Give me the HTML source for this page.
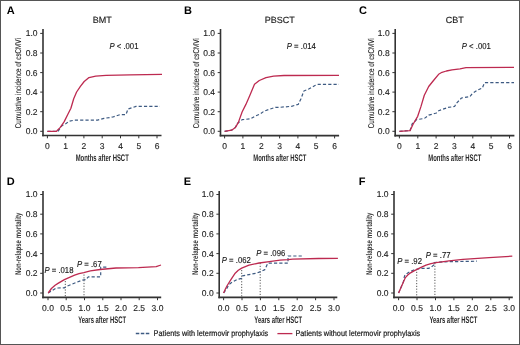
<!DOCTYPE html>
<html><head><meta charset="utf-8"><style>
html,body{margin:0;padding:0;background:#fff;}
body{width:520px;height:345px;overflow:hidden;}
svg{display:block;font-family:"Liberation Sans",sans-serif;will-change:transform;text-rendering:geometricPrecision;}
</style></head><body>
<svg width="520" height="345" viewBox="0 0 520 345">
<rect x="0" y="0" width="520" height="345" fill="#fff"/>
<line x1="0" y1="0" x2="0" y2="0"/>
<text x="6.7" y="14.3" font-weight="bold" font-size="11" fill="#000">A</text>
<line x1="43.0" y1="29" x2="43.0" y2="136.3" stroke="#333" stroke-width="1.6"/>
<line x1="40.2" y1="131.3" x2="43.0" y2="131.3" stroke="#333" stroke-width="1"/>
<text x="37.5" y="134.2" font-size="8.5" text-anchor="end" fill="#222" stroke="#222" stroke-width="0.12">0.0</text>
<line x1="40.2" y1="111.7" x2="43.0" y2="111.7" stroke="#333" stroke-width="1"/>
<text x="37.5" y="114.6" font-size="8.5" text-anchor="end" fill="#222" stroke="#222" stroke-width="0.12">0.2</text>
<line x1="40.2" y1="92.1" x2="43.0" y2="92.1" stroke="#333" stroke-width="1"/>
<text x="37.5" y="95.0" font-size="8.5" text-anchor="end" fill="#222" stroke="#222" stroke-width="0.12">0.4</text>
<line x1="40.2" y1="72.6" x2="43.0" y2="72.6" stroke="#333" stroke-width="1"/>
<text x="37.5" y="75.5" font-size="8.5" text-anchor="end" fill="#222" stroke="#222" stroke-width="0.12">0.6</text>
<line x1="40.2" y1="53.0" x2="43.0" y2="53.0" stroke="#333" stroke-width="1"/>
<text x="37.5" y="55.9" font-size="8.5" text-anchor="end" fill="#222" stroke="#222" stroke-width="0.12">0.8</text>
<line x1="40.2" y1="33.4" x2="43.0" y2="33.4" stroke="#333" stroke-width="1"/>
<text x="37.5" y="36.3" font-size="8.5" text-anchor="end" fill="#222" stroke="#222" stroke-width="0.12">1.0</text>
<line x1="42.2" y1="135.5" x2="161.5" y2="135.5" stroke="#333" stroke-width="1.6"/>
<line x1="47.4" y1="135.5" x2="47.4" y2="138.3" stroke="#333" stroke-width="1"/>
<text x="47.4" y="148.9" font-size="8.5" text-anchor="middle" fill="#222" stroke="#222" stroke-width="0.12">0</text>
<line x1="65.7" y1="135.5" x2="65.7" y2="138.3" stroke="#333" stroke-width="1"/>
<text x="65.7" y="148.9" font-size="8.5" text-anchor="middle" fill="#222" stroke="#222" stroke-width="0.12">1</text>
<line x1="83.9" y1="135.5" x2="83.9" y2="138.3" stroke="#333" stroke-width="1"/>
<text x="83.9" y="148.9" font-size="8.5" text-anchor="middle" fill="#222" stroke="#222" stroke-width="0.12">2</text>
<line x1="102.2" y1="135.5" x2="102.2" y2="138.3" stroke="#333" stroke-width="1"/>
<text x="102.2" y="148.9" font-size="8.5" text-anchor="middle" fill="#222" stroke="#222" stroke-width="0.12">3</text>
<line x1="120.5" y1="135.5" x2="120.5" y2="138.3" stroke="#333" stroke-width="1"/>
<text x="120.5" y="148.9" font-size="8.5" text-anchor="middle" fill="#222" stroke="#222" stroke-width="0.12">4</text>
<line x1="138.8" y1="135.5" x2="138.8" y2="138.3" stroke="#333" stroke-width="1"/>
<text x="138.8" y="148.9" font-size="8.5" text-anchor="middle" fill="#222" stroke="#222" stroke-width="0.12">5</text>
<line x1="157.0" y1="135.5" x2="157.0" y2="138.3" stroke="#333" stroke-width="1"/>
<text x="157.0" y="148.9" font-size="8.5" text-anchor="middle" fill="#222" stroke="#222" stroke-width="0.12">6</text>
<text transform="translate(102.2,161.1) scale(0.655,1.06)" font-size="9" font-weight="bold" text-anchor="middle" fill="#2a2a2a">Months after HSCT</text>
<text transform="translate(21.3,83.2) rotate(-90) scale(0.75,1)" font-size="8.4" text-anchor="middle" fill="#1a1a1a" stroke="#1a1a1a" stroke-width="0.1">Cumulative incidence of csCMVi</text>
<text x="102.2" y="23.1" font-size="9" text-anchor="middle" fill="#1a1a1a" stroke="#1a1a1a" stroke-width="0.15">BMT</text>
<text x="184.1" y="14.3" font-weight="bold" font-size="11" fill="#000">B</text>
<line x1="220.5" y1="29" x2="220.5" y2="136.4" stroke="#333" stroke-width="1.6"/>
<line x1="217.7" y1="131.3" x2="220.5" y2="131.3" stroke="#333" stroke-width="1"/>
<text x="215.0" y="134.2" font-size="8.5" text-anchor="end" fill="#222" stroke="#222" stroke-width="0.12">0.0</text>
<line x1="217.7" y1="111.7" x2="220.5" y2="111.7" stroke="#333" stroke-width="1"/>
<text x="215.0" y="114.6" font-size="8.5" text-anchor="end" fill="#222" stroke="#222" stroke-width="0.12">0.2</text>
<line x1="217.7" y1="92.1" x2="220.5" y2="92.1" stroke="#333" stroke-width="1"/>
<text x="215.0" y="95.0" font-size="8.5" text-anchor="end" fill="#222" stroke="#222" stroke-width="0.12">0.4</text>
<line x1="217.7" y1="72.6" x2="220.5" y2="72.6" stroke="#333" stroke-width="1"/>
<text x="215.0" y="75.5" font-size="8.5" text-anchor="end" fill="#222" stroke="#222" stroke-width="0.12">0.6</text>
<line x1="217.7" y1="53.0" x2="220.5" y2="53.0" stroke="#333" stroke-width="1"/>
<text x="215.0" y="55.9" font-size="8.5" text-anchor="end" fill="#222" stroke="#222" stroke-width="0.12">0.8</text>
<line x1="217.7" y1="33.4" x2="220.5" y2="33.4" stroke="#333" stroke-width="1"/>
<text x="215.0" y="36.3" font-size="8.5" text-anchor="end" fill="#222" stroke="#222" stroke-width="0.12">1.0</text>
<line x1="219.7" y1="135.6" x2="339.1" y2="135.6" stroke="#333" stroke-width="1.6"/>
<line x1="224.6" y1="135.6" x2="224.6" y2="138.4" stroke="#333" stroke-width="1"/>
<text x="224.6" y="149.0" font-size="8.5" text-anchor="middle" fill="#222" stroke="#222" stroke-width="0.12">0</text>
<line x1="242.9" y1="135.6" x2="242.9" y2="138.4" stroke="#333" stroke-width="1"/>
<text x="242.9" y="149.0" font-size="8.5" text-anchor="middle" fill="#222" stroke="#222" stroke-width="0.12">1</text>
<line x1="261.3" y1="135.6" x2="261.3" y2="138.4" stroke="#333" stroke-width="1"/>
<text x="261.3" y="149.0" font-size="8.5" text-anchor="middle" fill="#222" stroke="#222" stroke-width="0.12">2</text>
<line x1="279.6" y1="135.6" x2="279.6" y2="138.4" stroke="#333" stroke-width="1"/>
<text x="279.6" y="149.0" font-size="8.5" text-anchor="middle" fill="#222" stroke="#222" stroke-width="0.12">3</text>
<line x1="297.9" y1="135.6" x2="297.9" y2="138.4" stroke="#333" stroke-width="1"/>
<text x="297.9" y="149.0" font-size="8.5" text-anchor="middle" fill="#222" stroke="#222" stroke-width="0.12">4</text>
<line x1="316.2" y1="135.6" x2="316.2" y2="138.4" stroke="#333" stroke-width="1"/>
<text x="316.2" y="149.0" font-size="8.5" text-anchor="middle" fill="#222" stroke="#222" stroke-width="0.12">5</text>
<line x1="334.6" y1="135.6" x2="334.6" y2="138.4" stroke="#333" stroke-width="1"/>
<text x="334.6" y="149.0" font-size="8.5" text-anchor="middle" fill="#222" stroke="#222" stroke-width="0.12">6</text>
<text transform="translate(279.8,161.2) scale(0.655,1.06)" font-size="9" font-weight="bold" text-anchor="middle" fill="#2a2a2a">Months after HSCT</text>
<text transform="translate(198.8,83.3) rotate(-90) scale(0.75,1)" font-size="8.4" text-anchor="middle" fill="#1a1a1a" stroke="#1a1a1a" stroke-width="0.1">Cumulative incidence of csCMVi</text>
<text x="279.8" y="23.1" font-size="9" text-anchor="middle" fill="#1a1a1a" stroke="#1a1a1a" stroke-width="0.15">PBSCT</text>
<text x="359.09999999999997" y="14.3" font-weight="bold" font-size="11" fill="#000">C</text>
<line x1="395.2" y1="29" x2="395.2" y2="136.4" stroke="#333" stroke-width="1.6"/>
<line x1="392.4" y1="131.3" x2="395.2" y2="131.3" stroke="#333" stroke-width="1"/>
<text x="389.7" y="134.2" font-size="8.5" text-anchor="end" fill="#222" stroke="#222" stroke-width="0.12">0.0</text>
<line x1="392.4" y1="111.7" x2="395.2" y2="111.7" stroke="#333" stroke-width="1"/>
<text x="389.7" y="114.6" font-size="8.5" text-anchor="end" fill="#222" stroke="#222" stroke-width="0.12">0.2</text>
<line x1="392.4" y1="92.1" x2="395.2" y2="92.1" stroke="#333" stroke-width="1"/>
<text x="389.7" y="95.0" font-size="8.5" text-anchor="end" fill="#222" stroke="#222" stroke-width="0.12">0.4</text>
<line x1="392.4" y1="72.6" x2="395.2" y2="72.6" stroke="#333" stroke-width="1"/>
<text x="389.7" y="75.5" font-size="8.5" text-anchor="end" fill="#222" stroke="#222" stroke-width="0.12">0.6</text>
<line x1="392.4" y1="53.0" x2="395.2" y2="53.0" stroke="#333" stroke-width="1"/>
<text x="389.7" y="55.9" font-size="8.5" text-anchor="end" fill="#222" stroke="#222" stroke-width="0.12">0.8</text>
<line x1="392.4" y1="33.4" x2="395.2" y2="33.4" stroke="#333" stroke-width="1"/>
<text x="389.7" y="36.3" font-size="8.5" text-anchor="end" fill="#222" stroke="#222" stroke-width="0.12">1.0</text>
<line x1="394.4" y1="135.6" x2="514.4" y2="135.6" stroke="#333" stroke-width="1.6"/>
<line x1="399.4" y1="135.6" x2="399.4" y2="138.4" stroke="#333" stroke-width="1"/>
<text x="399.4" y="149.0" font-size="8.5" text-anchor="middle" fill="#222" stroke="#222" stroke-width="0.12">0</text>
<line x1="417.8" y1="135.6" x2="417.8" y2="138.4" stroke="#333" stroke-width="1"/>
<text x="417.8" y="149.0" font-size="8.5" text-anchor="middle" fill="#222" stroke="#222" stroke-width="0.12">1</text>
<line x1="436.1" y1="135.6" x2="436.1" y2="138.4" stroke="#333" stroke-width="1"/>
<text x="436.1" y="149.0" font-size="8.5" text-anchor="middle" fill="#222" stroke="#222" stroke-width="0.12">2</text>
<line x1="454.4" y1="135.6" x2="454.4" y2="138.4" stroke="#333" stroke-width="1"/>
<text x="454.4" y="149.0" font-size="8.5" text-anchor="middle" fill="#222" stroke="#222" stroke-width="0.12">3</text>
<line x1="472.8" y1="135.6" x2="472.8" y2="138.4" stroke="#333" stroke-width="1"/>
<text x="472.8" y="149.0" font-size="8.5" text-anchor="middle" fill="#222" stroke="#222" stroke-width="0.12">4</text>
<line x1="491.1" y1="135.6" x2="491.1" y2="138.4" stroke="#333" stroke-width="1"/>
<text x="491.1" y="149.0" font-size="8.5" text-anchor="middle" fill="#222" stroke="#222" stroke-width="0.12">5</text>
<line x1="509.5" y1="135.6" x2="509.5" y2="138.4" stroke="#333" stroke-width="1"/>
<text x="509.5" y="149.0" font-size="8.5" text-anchor="middle" fill="#222" stroke="#222" stroke-width="0.12">6</text>
<text transform="translate(454.8,161.2) scale(0.655,1.06)" font-size="9" font-weight="bold" text-anchor="middle" fill="#2a2a2a">Months after HSCT</text>
<text transform="translate(373.5,83.3) rotate(-90) scale(0.75,1)" font-size="8.4" text-anchor="middle" fill="#1a1a1a" stroke="#1a1a1a" stroke-width="0.1">Cumulative incidence of csCMVi</text>
<text x="454.8" y="23.1" font-size="9" text-anchor="middle" fill="#1a1a1a" stroke="#1a1a1a" stroke-width="0.15">CBT</text>
<text x="6.7" y="184.5" font-weight="bold" font-size="11" fill="#000">D</text>
<line x1="43.0" y1="191" x2="43.0" y2="298.2" stroke="#333" stroke-width="1.6"/>
<line x1="40.2" y1="293.0" x2="43.0" y2="293.0" stroke="#333" stroke-width="1"/>
<text x="37.5" y="295.9" font-size="8.5" text-anchor="end" fill="#222" stroke="#222" stroke-width="0.12">0.0</text>
<line x1="40.2" y1="273.3" x2="43.0" y2="273.3" stroke="#333" stroke-width="1"/>
<text x="37.5" y="276.2" font-size="8.5" text-anchor="end" fill="#222" stroke="#222" stroke-width="0.12">0.2</text>
<line x1="40.2" y1="253.6" x2="43.0" y2="253.6" stroke="#333" stroke-width="1"/>
<text x="37.5" y="256.5" font-size="8.5" text-anchor="end" fill="#222" stroke="#222" stroke-width="0.12">0.4</text>
<line x1="40.2" y1="233.9" x2="43.0" y2="233.9" stroke="#333" stroke-width="1"/>
<text x="37.5" y="236.8" font-size="8.5" text-anchor="end" fill="#222" stroke="#222" stroke-width="0.12">0.6</text>
<line x1="40.2" y1="214.2" x2="43.0" y2="214.2" stroke="#333" stroke-width="1"/>
<text x="37.5" y="217.1" font-size="8.5" text-anchor="end" fill="#222" stroke="#222" stroke-width="0.12">0.8</text>
<line x1="40.2" y1="194.5" x2="43.0" y2="194.5" stroke="#333" stroke-width="1"/>
<text x="37.5" y="197.4" font-size="8.5" text-anchor="end" fill="#222" stroke="#222" stroke-width="0.12">1.0</text>
<line x1="42.2" y1="297.4" x2="161.2" y2="297.4" stroke="#333" stroke-width="1.6"/>
<line x1="48.0" y1="297.4" x2="48.0" y2="300.2" stroke="#333" stroke-width="1"/>
<text x="48.0" y="310.8" font-size="8.5" text-anchor="middle" fill="#222" stroke="#222" stroke-width="0.12">0.0</text>
<line x1="66.2" y1="297.4" x2="66.2" y2="300.2" stroke="#333" stroke-width="1"/>
<text x="66.2" y="310.8" font-size="8.5" text-anchor="middle" fill="#222" stroke="#222" stroke-width="0.12">0.5</text>
<line x1="84.5" y1="297.4" x2="84.5" y2="300.2" stroke="#333" stroke-width="1"/>
<text x="84.5" y="310.8" font-size="8.5" text-anchor="middle" fill="#222" stroke="#222" stroke-width="0.12">1.0</text>
<line x1="102.8" y1="297.4" x2="102.8" y2="300.2" stroke="#333" stroke-width="1"/>
<text x="102.8" y="310.8" font-size="8.5" text-anchor="middle" fill="#222" stroke="#222" stroke-width="0.12">1.5</text>
<line x1="121.0" y1="297.4" x2="121.0" y2="300.2" stroke="#333" stroke-width="1"/>
<text x="121.0" y="310.8" font-size="8.5" text-anchor="middle" fill="#222" stroke="#222" stroke-width="0.12">2.0</text>
<line x1="139.2" y1="297.4" x2="139.2" y2="300.2" stroke="#333" stroke-width="1"/>
<text x="139.2" y="310.8" font-size="8.5" text-anchor="middle" fill="#222" stroke="#222" stroke-width="0.12">2.5</text>
<line x1="157.5" y1="297.4" x2="157.5" y2="300.2" stroke="#333" stroke-width="1"/>
<text x="157.5" y="310.8" font-size="8.5" text-anchor="middle" fill="#222" stroke="#222" stroke-width="0.12">3.0</text>
<text transform="translate(102.1,323.0) scale(0.655,1.06)" font-size="9" font-weight="bold" text-anchor="middle" fill="#2a2a2a">Years after HSCT</text>
<text transform="translate(21.3,243.9) rotate(-90) scale(0.725,1)" font-size="8.4" font-weight="bold" text-anchor="middle" fill="#383838">Non-relapse mortality</text>
<text x="183.7" y="184.5" font-weight="bold" font-size="11" fill="#000">E</text>
<line x1="219.2" y1="191" x2="219.2" y2="298.2" stroke="#333" stroke-width="1.6"/>
<line x1="216.39999999999998" y1="293.0" x2="219.2" y2="293.0" stroke="#333" stroke-width="1"/>
<text x="213.7" y="295.9" font-size="8.5" text-anchor="end" fill="#222" stroke="#222" stroke-width="0.12">0.0</text>
<line x1="216.39999999999998" y1="273.3" x2="219.2" y2="273.3" stroke="#333" stroke-width="1"/>
<text x="213.7" y="276.2" font-size="8.5" text-anchor="end" fill="#222" stroke="#222" stroke-width="0.12">0.2</text>
<line x1="216.39999999999998" y1="253.6" x2="219.2" y2="253.6" stroke="#333" stroke-width="1"/>
<text x="213.7" y="256.5" font-size="8.5" text-anchor="end" fill="#222" stroke="#222" stroke-width="0.12">0.4</text>
<line x1="216.39999999999998" y1="233.9" x2="219.2" y2="233.9" stroke="#333" stroke-width="1"/>
<text x="213.7" y="236.8" font-size="8.5" text-anchor="end" fill="#222" stroke="#222" stroke-width="0.12">0.6</text>
<line x1="216.39999999999998" y1="214.2" x2="219.2" y2="214.2" stroke="#333" stroke-width="1"/>
<text x="213.7" y="217.1" font-size="8.5" text-anchor="end" fill="#222" stroke="#222" stroke-width="0.12">0.8</text>
<line x1="216.39999999999998" y1="194.5" x2="219.2" y2="194.5" stroke="#333" stroke-width="1"/>
<text x="213.7" y="197.4" font-size="8.5" text-anchor="end" fill="#222" stroke="#222" stroke-width="0.12">1.0</text>
<line x1="218.39999999999998" y1="297.4" x2="337.3" y2="297.4" stroke="#333" stroke-width="1.6"/>
<line x1="223.6" y1="297.4" x2="223.6" y2="300.2" stroke="#333" stroke-width="1"/>
<text x="223.6" y="310.8" font-size="8.5" text-anchor="middle" fill="#222" stroke="#222" stroke-width="0.12">0.0</text>
<line x1="242.0" y1="297.4" x2="242.0" y2="300.2" stroke="#333" stroke-width="1"/>
<text x="242.0" y="310.8" font-size="8.5" text-anchor="middle" fill="#222" stroke="#222" stroke-width="0.12">0.5</text>
<line x1="260.4" y1="297.4" x2="260.4" y2="300.2" stroke="#333" stroke-width="1"/>
<text x="260.4" y="310.8" font-size="8.5" text-anchor="middle" fill="#222" stroke="#222" stroke-width="0.12">1.0</text>
<line x1="278.8" y1="297.4" x2="278.8" y2="300.2" stroke="#333" stroke-width="1"/>
<text x="278.8" y="310.8" font-size="8.5" text-anchor="middle" fill="#222" stroke="#222" stroke-width="0.12">1.5</text>
<line x1="297.2" y1="297.4" x2="297.2" y2="300.2" stroke="#333" stroke-width="1"/>
<text x="297.2" y="310.8" font-size="8.5" text-anchor="middle" fill="#222" stroke="#222" stroke-width="0.12">2.0</text>
<line x1="315.6" y1="297.4" x2="315.6" y2="300.2" stroke="#333" stroke-width="1"/>
<text x="315.6" y="310.8" font-size="8.5" text-anchor="middle" fill="#222" stroke="#222" stroke-width="0.12">2.5</text>
<line x1="334.0" y1="297.4" x2="334.0" y2="300.2" stroke="#333" stroke-width="1"/>
<text x="334.0" y="310.8" font-size="8.5" text-anchor="middle" fill="#222" stroke="#222" stroke-width="0.12">3.0</text>
<text transform="translate(278.2,323.0) scale(0.655,1.06)" font-size="9" font-weight="bold" text-anchor="middle" fill="#2a2a2a">Years after HSCT</text>
<text transform="translate(197.5,243.9) rotate(-90) scale(0.725,1)" font-size="8.4" font-weight="bold" text-anchor="middle" fill="#383838">Non-relapse mortality</text>
<text x="358.7" y="184.5" font-weight="bold" font-size="11" fill="#000">F</text>
<line x1="394.0" y1="191" x2="394.0" y2="298.2" stroke="#333" stroke-width="1.6"/>
<line x1="391.2" y1="293.0" x2="394.0" y2="293.0" stroke="#333" stroke-width="1"/>
<text x="388.5" y="295.9" font-size="8.5" text-anchor="end" fill="#222" stroke="#222" stroke-width="0.12">0.0</text>
<line x1="391.2" y1="273.3" x2="394.0" y2="273.3" stroke="#333" stroke-width="1"/>
<text x="388.5" y="276.2" font-size="8.5" text-anchor="end" fill="#222" stroke="#222" stroke-width="0.12">0.2</text>
<line x1="391.2" y1="253.6" x2="394.0" y2="253.6" stroke="#333" stroke-width="1"/>
<text x="388.5" y="256.5" font-size="8.5" text-anchor="end" fill="#222" stroke="#222" stroke-width="0.12">0.4</text>
<line x1="391.2" y1="233.9" x2="394.0" y2="233.9" stroke="#333" stroke-width="1"/>
<text x="388.5" y="236.8" font-size="8.5" text-anchor="end" fill="#222" stroke="#222" stroke-width="0.12">0.6</text>
<line x1="391.2" y1="214.2" x2="394.0" y2="214.2" stroke="#333" stroke-width="1"/>
<text x="388.5" y="217.1" font-size="8.5" text-anchor="end" fill="#222" stroke="#222" stroke-width="0.12">0.8</text>
<line x1="391.2" y1="194.5" x2="394.0" y2="194.5" stroke="#333" stroke-width="1"/>
<text x="388.5" y="197.4" font-size="8.5" text-anchor="end" fill="#222" stroke="#222" stroke-width="0.12">1.0</text>
<line x1="393.2" y1="297.4" x2="512.8" y2="297.4" stroke="#333" stroke-width="1.6"/>
<line x1="398.6" y1="297.4" x2="398.6" y2="300.2" stroke="#333" stroke-width="1"/>
<text x="398.6" y="310.8" font-size="8.5" text-anchor="middle" fill="#222" stroke="#222" stroke-width="0.12">0.0</text>
<line x1="417.0" y1="297.4" x2="417.0" y2="300.2" stroke="#333" stroke-width="1"/>
<text x="417.0" y="310.8" font-size="8.5" text-anchor="middle" fill="#222" stroke="#222" stroke-width="0.12">0.5</text>
<line x1="435.5" y1="297.4" x2="435.5" y2="300.2" stroke="#333" stroke-width="1"/>
<text x="435.5" y="310.8" font-size="8.5" text-anchor="middle" fill="#222" stroke="#222" stroke-width="0.12">1.0</text>
<line x1="453.9" y1="297.4" x2="453.9" y2="300.2" stroke="#333" stroke-width="1"/>
<text x="453.9" y="310.8" font-size="8.5" text-anchor="middle" fill="#222" stroke="#222" stroke-width="0.12">1.5</text>
<line x1="472.3" y1="297.4" x2="472.3" y2="300.2" stroke="#333" stroke-width="1"/>
<text x="472.3" y="310.8" font-size="8.5" text-anchor="middle" fill="#222" stroke="#222" stroke-width="0.12">2.0</text>
<line x1="490.8" y1="297.4" x2="490.8" y2="300.2" stroke="#333" stroke-width="1"/>
<text x="490.8" y="310.8" font-size="8.5" text-anchor="middle" fill="#222" stroke="#222" stroke-width="0.12">2.5</text>
<line x1="509.2" y1="297.4" x2="509.2" y2="300.2" stroke="#333" stroke-width="1"/>
<text x="509.2" y="310.8" font-size="8.5" text-anchor="middle" fill="#222" stroke="#222" stroke-width="0.12">3.0</text>
<text transform="translate(453.4,323.0) scale(0.655,1.06)" font-size="9" font-weight="bold" text-anchor="middle" fill="#2a2a2a">Years after HSCT</text>
<text transform="translate(372.3,243.9) rotate(-90) scale(0.725,1)" font-size="8.4" font-weight="bold" text-anchor="middle" fill="#383838">Non-relapse mortality</text>
<text transform="translate(109.4,49.2) scale(0.9,1)" font-size="8.6" fill="#1a1a1a" stroke="#1a1a1a" stroke-width="0.15"><tspan font-style="italic">P</tspan> &lt; .001</text>
<text transform="translate(286.8,49.2) scale(0.9,1)" font-size="8.6" fill="#1a1a1a" stroke="#1a1a1a" stroke-width="0.15"><tspan font-style="italic">P</tspan> = .014</text>
<text transform="translate(461.8,49.2) scale(0.9,1)" font-size="8.6" fill="#1a1a1a" stroke="#1a1a1a" stroke-width="0.15"><tspan font-style="italic">P</tspan> &lt; .001</text>
<text transform="translate(44.4,273.2) scale(0.9,1)" font-size="8.6" fill="#1a1a1a" stroke="#1a1a1a" stroke-width="0.15"><tspan font-style="italic">P</tspan> = .018</text>
<text transform="translate(77.0,267.4) scale(0.9,1)" font-size="8.6" fill="#1a1a1a" stroke="#1a1a1a" stroke-width="0.15"><tspan font-style="italic">P</tspan> = .67</text>
<text transform="translate(221.8,263.2) scale(0.9,1)" font-size="8.6" fill="#1a1a1a" stroke="#1a1a1a" stroke-width="0.15"><tspan font-style="italic">P</tspan> = .062</text>
<text transform="translate(256.2,256.4) scale(0.9,1)" font-size="8.6" fill="#1a1a1a" stroke="#1a1a1a" stroke-width="0.15"><tspan font-style="italic">P</tspan> = .096</text>
<text transform="translate(397.2,263.8) scale(0.9,1)" font-size="8.6" fill="#1a1a1a" stroke="#1a1a1a" stroke-width="0.15"><tspan font-style="italic">P</tspan> = .92</text>
<text transform="translate(425.8,257.8) scale(0.9,1)" font-size="8.6" fill="#1a1a1a" stroke="#1a1a1a" stroke-width="0.15"><tspan font-style="italic">P</tspan> = .77</text>
<line x1="65.3" y1="281" x2="65.3" y2="297" stroke="#444" stroke-width="0.9" stroke-dasharray="1.2,1.6"/>
<line x1="84.0" y1="274.5" x2="84.0" y2="297" stroke="#444" stroke-width="0.9" stroke-dasharray="1.2,1.6"/>
<line x1="241.7" y1="270" x2="241.7" y2="297" stroke="#444" stroke-width="0.9" stroke-dasharray="1.2,1.6"/>
<line x1="260.2" y1="263" x2="260.2" y2="297" stroke="#444" stroke-width="0.9" stroke-dasharray="1.2,1.6"/>
<line x1="416.7" y1="269" x2="416.7" y2="297" stroke="#444" stroke-width="0.9" stroke-dasharray="1.2,1.6"/>
<line x1="434.9" y1="263" x2="434.9" y2="297" stroke="#444" stroke-width="0.9" stroke-dasharray="1.2,1.6"/>
<polyline points="47.4,131.3 58.0,131.3 60.3,128.0 62.3,125.4 66.1,123.5 69.0,121.2 74.7,120.1 97.6,120.1 104.0,118.4 113.0,117.0 120.0,114.6 126.0,114.6 128.0,109.0 136.0,106.4 160.0,106.4" fill="none" stroke="#3d5a82" stroke-width="1.2" stroke-dasharray="3.2,2.1" stroke-linejoin="round"/>
<polyline points="224.6,131.3 231.6,130.2 235.4,127.4 237.3,123.5 242.1,119.7 250.7,118.8 255.5,115.9 260.2,114.0 264.1,111.1 269.8,109.2 275.5,107.3 280.0,107.3 291.5,106.3 298.2,104.4 301.0,98.7 303.9,91.0 308.7,89.1 315.4,85.3 318.2,84.3 339.0,84.3" fill="none" stroke="#3d5a82" stroke-width="1.2" stroke-dasharray="3.2,2.1" stroke-linejoin="round"/>
<polyline points="399.4,131.3 410.0,130.6 412.1,124.0 416.6,119.6 424.3,118.5 428.7,115.2 436.4,113.0 438.6,110.8 447.7,107.5 454.6,106.5 456.2,103.5 461.5,98.0 470.0,96.5 472.3,93.5 477.0,90.4 482.3,88.0 484.6,82.6 514.0,82.6" fill="none" stroke="#3d5a82" stroke-width="1.2" stroke-dasharray="3.2,2.1" stroke-linejoin="round"/>
<polyline points="48.2,293.0 55.1,288.7 58.0,288.0 64.5,287.8 66.0,286.6 72.0,284.2 81.9,280.2 86.0,279.6 88.3,276.8 100.7,276.8 100.7,267.2 107.0,267.2" fill="none" stroke="#3d5a82" stroke-width="1.2" stroke-dasharray="3.2,2.1" stroke-linejoin="round"/>
<polyline points="223.6,293.0 226.5,289.1 228.7,284.8 231.6,282.6 236.7,279.7 241.7,278.3 242.5,275.8 249.0,274.6 256.2,273.2 261.3,271.4 264.9,269.6 267.8,263.2 288.0,263.2 288.0,256.0 302.3,256.0" fill="none" stroke="#3d5a82" stroke-width="1.2" stroke-dasharray="3.2,2.1" stroke-linejoin="round"/>
<polyline points="398.6,293.0 401.2,287.0 403.3,282.3 404.5,276.0 407.0,273.5 410.0,271.6 413.8,270.0 421.0,268.4 428.3,268.4 431.0,267.4 434.0,264.8 434.0,262.5 445.0,261.8 477.0,261.2" fill="none" stroke="#3d5a82" stroke-width="1.2" stroke-dasharray="3.2,2.1" stroke-linejoin="round"/>
<polyline points="47.4,131.3 56.5,131.3 60.3,127.4 64.2,121.6 68.0,114.0 70.9,108.2 73.7,98.7 76.6,92.0 80.4,86.3 84.2,81.5 89.0,77.6 95.7,76.1 106.0,75.4 130.0,74.8 162.0,74.4" fill="none" stroke="#bd2a50" stroke-width="1.3" stroke-linejoin="round"/>
<polyline points="224.6,131.3 231.6,130.2 235.4,127.4 238.3,122.6 242.1,112.0 245.9,104.4 249.7,95.8 254.5,84.3 259.3,80.5 266.0,77.6 273.6,76.1 284.0,75.5 339.0,75.4" fill="none" stroke="#bd2a50" stroke-width="1.3" stroke-linejoin="round"/>
<polyline points="399.4,131.3 410.0,130.6 413.2,124.0 417.7,116.3 421.0,106.4 424.3,95.3 428.7,86.5 433.1,81.0 438.6,74.3 442.0,72.3 446.4,71.0 452.0,69.8 460.0,68.8 466.0,67.6 514.0,67.4" fill="none" stroke="#bd2a50" stroke-width="1.3" stroke-linejoin="round"/>
<polyline points="48.2,293.0 51.4,288.5 55.1,285.2 58.0,283.4 64.4,279.6 69.5,277.3 74.6,275.2 79.0,273.7 83.8,272.6 90.4,270.9 100.1,269.5 116.0,268.0 138.5,267.6 156.2,266.6 161.0,265.0" fill="none" stroke="#bd2a50" stroke-width="1.3" stroke-linejoin="round"/>
<polyline points="223.6,293.0 225.4,289.0 227.2,285.5 230.9,279.7 235.2,273.2 238.3,270.3 241.7,268.1 249.0,265.2 259.1,263.0 269.3,261.6 280.0,260.2 288.0,259.6 292.7,259.1 318.5,258.5 337.9,258.3" fill="none" stroke="#bd2a50" stroke-width="1.3" stroke-linejoin="round"/>
<polyline points="398.6,293.0 401.2,287.0 403.3,282.3 405.4,277.6 408.0,274.8 411.0,272.6 414.0,270.9 417.0,269.4 421.0,267.4 426.0,265.2 431.0,263.7 436.0,262.7 442.0,261.9 449.0,260.9 463.0,259.4 489.0,257.6 512.3,256.2" fill="none" stroke="#bd2a50" stroke-width="1.3" stroke-linejoin="round"/>
<line x1="135.8" y1="333.5" x2="150.1" y2="333.5" stroke="#3d5a82" stroke-width="1.3" stroke-dasharray="3.5,1.5"/>
<text transform="translate(153.6,336.2) scale(0.9,1)" font-size="8.15" fill="#1a1a1a" stroke="#1a1a1a" stroke-width="0.2">Patients with letermovir prophylaxis</text>
<line x1="277.4" y1="333.6" x2="292.4" y2="333.6" stroke="#bd2a50" stroke-width="1.3"/>
<text transform="translate(295.4,336.2) scale(0.9,1)" font-size="8.15" fill="#1a1a1a" stroke="#1a1a1a" stroke-width="0.2">Patients without letermovir prophylaxis</text>
<rect x="0.5" y="0.5" width="519" height="344" fill="none" stroke="#555" stroke-width="1"/>
</svg>
</body></html>
